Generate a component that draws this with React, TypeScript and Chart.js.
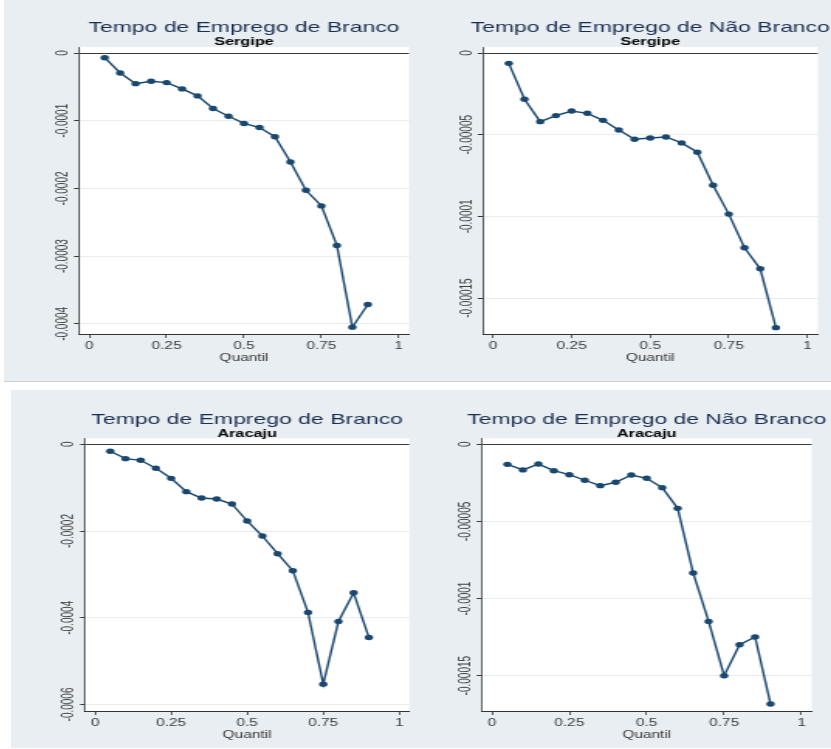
import React, { useEffect, useRef } from 'react';
import { Chart, registerables } from 'chart.js';

Chart.register(...registerables);

const FONT = '"Liberation Sans", Arial, Helvetica, sans-serif';
const NAVY = '#1a476f';
const TITLE_COLOR = '#1c2e50';
const TEXT_GRAY = '#3d3d3d';
const PANEL_BG = '#e8eef1';
// horizontal stretch applied to each rendered panel
const STRETCH = 1.55;

// ---- data ----
const quantis = [0.05, 0.1, 0.15, 0.2, 0.25, 0.3, 0.35, 0.4, 0.45, 0.5, 0.55, 0.6, 0.65, 0.7, 0.75, 0.8, 0.85, 0.9];

const xTicks = [0, 0.25, 0.5, 0.75, 1];
const xTickLabels = ['0', '0.25', '0.5', '0.75', '1'];

const brancoSergipe = [
  -0.0000069, -0.0000295, -0.0000452, -0.0000417, -0.0000437, -0.000053, -0.0000633, -0.000082, -0.0000933,
  -0.000104, -0.00011, -0.0001237, -0.000161, -0.0002027, -0.0002258, -0.0002842, -0.0004049, -0.0003715,
];
const naoBrancoSergipe = [
  -0.0000063, -0.0000283, -0.000042, -0.0000383, -0.0000355, -0.0000369, -0.0000412, -0.0000471, -0.0000528,
  -0.000052, -0.0000514, -0.000055, -0.0000607, -0.0000809, -0.0000986, -0.0001192, -0.0001321, -0.0001681,
];
const brancoAracaju = [
  -0.0000162, -0.0000331, -0.0000369, -0.0000554, -0.0000785, -0.0001092, -0.0001238, -0.0001262, -0.0001377,
  -0.0001769, -0.0002115, -0.0002523, -0.0002915, -0.0003877, -0.0005531, -0.0004085, -0.0003423, -0.0004454,
];
const naoBrancoAracaju = [
  -0.000013, -0.0000166, -0.0000128, -0.0000171, -0.0000197, -0.0000233, -0.0000268, -0.0000246, -0.0000199,
  -0.000022, -0.0000281, -0.0000415, -0.0000834, -0.0001148, -0.00015, -0.0001299, -0.0001249, -0.0001684,
];

const yTicksBranco = [0, -0.0001, -0.0002, -0.0003, -0.0004];
const yLabelsBranco = ['0', '-0.0001', '-0.0002', '-0.0003', '-0.0004'];
const yTicksNaoBranco = [0, -0.00005, -0.0001, -0.00015];
const yLabelsNaoBranco = ['0', '-0.00005', '-0.0001', '-0.00015'];
const yTicksBrancoAju = [0, -0.0002, -0.0004, -0.0006];
const yLabelsBrancoAju = ['0', '-0.0002', '-0.0004', '-0.0006'];

type Box = { left: number; top: number; width: number; height: number };
type Plot = { left: number; right: number; top: number; bottom: number };

type PanelProps = {
  title: string;
  subtitle: string;
  values: number[];
  yTicks: number[];
  yLabels: string[];
  yMin: number;
  yMax: number;
  box: Box;
  plot: Plot;
  titleY: number;
  subtitleY: number;
};

const Y_W = 20;
const X_H = 30.3;

function Panel(props: PanelProps) {
  const ref = useRef<HTMLCanvasElement | null>(null);
  const { box, plot } = props;
  const preW = Math.round(box.width / STRETCH);
  const sx = box.width / preW;

  useEffect(() => {
    if (!ref.current) return;

    const plotBg = {
      id: 'plotBg',
      beforeDraw(chart: any) {
        const { ctx, chartArea } = chart;
        ctx.save();
        ctx.fillStyle = '#ffffff';
        ctx.fillRect(chartArea.left, chartArea.top, chartArea.right - chartArea.left, chartArea.bottom - chartArea.top);
        ctx.restore();
      },
    };

    const yLabelPlugin = {
      id: 'yLabels',
      afterDraw(chart: any) {
        const { ctx, chartArea } = chart;
        const scale = chart.scales.y;
        ctx.save();
        ctx.font = `10px ${FONT}`;
        ctx.fillStyle = TEXT_GRAY;
        ctx.textAlign = 'center';
        ctx.textBaseline = 'middle';
        props.yTicks.forEach((v, i) => {
          const y = scale.getPixelForValue(v);
          ctx.save();
          ctx.translate(chartArea.left - 10.1, y);
          ctx.rotate(-Math.PI / 2);
          ctx.fillText(props.yLabels[i], 0, 0);
          ctx.restore();
        });
        ctx.restore();
      },
    };

    const titlePlugin = {
      id: 'panelTitles',
      afterDraw(chart: any) {
        const { ctx, chartArea } = chart;
        const cx = (chartArea.left + chartArea.right) / 2;
        ctx.save();
        ctx.textAlign = 'center';
        ctx.textBaseline = 'middle';
        ctx.font = `14.8px ${FONT}`;
        ctx.fillStyle = TITLE_COLOR;
        ctx.fillText(props.title, cx, props.titleY);
        ctx.font = `bold 10.5px ${FONT}`;
        ctx.fillStyle = '#000000';
        ctx.fillText(props.subtitle, cx, props.subtitleY);
        ctx.restore();
      },
    };

    const chart = new Chart(ref.current, {
      type: 'line',
      data: {
        datasets: [
          {
            data: quantis.map((q, i) => ({ x: q, y: props.values[i] })),
            borderColor: NAVY,
            backgroundColor: NAVY,
            borderWidth: 1.4,
            pointRadius: 2.7,
            pointBorderWidth: 0,
            pointBackgroundColor: NAVY,
            tension: 0,
          },
        ],
      },
      options: {
        responsive: false,
        animation: false,
        devicePixelRatio: 1,
        layout: {
          padding: {
            left: plot.left / sx - Y_W,
            right: preW - plot.right / sx,
            top: plot.top,
            bottom: box.height - plot.bottom - X_H,
          },
        },
        plugins: {
          legend: { display: false },
          tooltip: { enabled: false },
          title: { display: false },
        },
        scales: {
          x: {
            type: 'linear',
            min: -0.033,
            max: 1.033,
            afterBuildTicks: (scale: any) => {
              scale.ticks = xTicks.map((v) => ({ value: v }));
            },
            afterFit: (scale: any) => {
              scale.height = X_H;
            },
            ticks: {
              autoSkip: false,
              maxRotation: 0,
              minRotation: 0,
              padding: 2.7,
              color: TEXT_GRAY,
              font: { family: FONT, size: 10 },
              callback: (_v: any, i: number) => xTickLabels[i],
            },
            grid: {
              drawOnChartArea: false,
              drawTicks: true,
              tickLength: 4,
              tickColor: '#333333',
              tickWidth: 0.8,
            },
            border: { display: true, color: '#333333', width: 1 },
            title: {
              display: true,
              text: 'Quantil',
              color: TEXT_GRAY,
              font: { family: FONT, size: 10, lineHeight: 1.2 },
              padding: { top: 0, bottom: 0 },
            },
          },
          y: {
            type: 'linear',
            min: props.yMin,
            max: props.yMax,
            afterBuildTicks: (scale: any) => {
              scale.ticks = props.yTicks.map((v) => ({ value: v }));
            },
            afterFit: (scale: any) => {
              scale.width = Y_W;
            },
            ticks: { display: false },
            grid: {
              color: (c: any) => (c.tick && c.tick.value === 0 ? '#3a3a3a' : '#e6ecef'),
              lineWidth: 1,
              drawTicks: true,
              tickLength: 3.2,
              tickColor: '#333333',
            },
            border: { display: true, color: '#333333', width: 0.8 },
          },
        },
      },
      plugins: [plotBg, yLabelPlugin, titlePlugin],
    } as any);

    return () => chart.destroy();
  }, []);

  return (
    <div
      style={{
        position: 'absolute',
        left: box.left,
        top: box.top,
        width: box.width,
        height: box.height,
      }}
    >
      <canvas
        ref={ref}
        width={preW}
        height={box.height}
        style={{
          position: 'absolute',
          left: 0,
          top: 0,
          width: preW,
          height: box.height,
          transform: `scaleX(${sx})`,
          transformOrigin: '0 0',
        }}
      />
    </div>
  );
}

export default function App() {
  return (
    <div
      style={{
        position: 'absolute',
        left: 0,
        top: 0,
        width: 831,
        height: 749,
        background: '#ffffff',
        overflow: 'hidden',
      }}
    >
      <div
        style={{
          position: 'absolute',
          left: 4,
          top: 0,
          width: 827,
          height: 381,
          background: PANEL_BG,
          borderBottom: '1px solid #c9ced1',
        }}
      />
      <div
        style={{
          position: 'absolute',
          left: 11,
          top: 390,
          width: 820,
          height: 358,
          background: PANEL_BG,
        }}
      />
      <Panel
        title="Tempo de Emprego de Branco"
        subtitle="Sergipe"
        values={brancoSergipe}
        yTicks={yTicksBranco}
        yLabels={yLabelsBranco}
        yMin={-0.000415}
        yMax={0.0000089}
        box={{ left: 4, top: 0, width: 412, height: 382 }}
        plot={{ left: 75, right: 405, top: 47, bottom: 334 }}
        titleY={27.5}
        subtitleY={42.5}
      />
      <Panel
        title="Tempo de Emprego de Não Branco"
        subtitle="Sergipe"
        values={naoBrancoSergipe}
        yTicks={yTicksNaoBranco}
        yLabels={yLabelsNaoBranco}
        yMin={-0.000172}
        yMax={0.0000037}
        box={{ left: 416, top: 0, width: 415, height: 382 }}
        plot={{ left: 66.7, right: 401.7, top: 47, bottom: 334 }}
        titleY={27.5}
        subtitleY={42.5}
      />
      <Panel
        title="Tempo de Emprego de Branco"
        subtitle="Aracaju"
        values={brancoAracaju}
        yTicks={yTicksBrancoAju}
        yLabels={yLabelsBrancoAju}
        yMin={-0.000615}
        yMax={0.0000138}
        box={{ left: 11, top: 390, width: 405, height: 358 }}
        plot={{ left: 74, right: 398.3, top: 48.3, bottom: 321 }}
        titleY={29.5}
        subtitleY={44}
      />
      <Panel
        title="Tempo de Emprego de Não Branco"
        subtitle="Aracaju"
        values={naoBrancoAracaju}
        yTicks={yTicksNaoBranco}
        yLabels={yLabelsNaoBranco}
        yMin={-0.0001729}
        yMax={0.0000039}
        box={{ left: 416, top: 390, width: 415, height: 358 }}
        plot={{ left: 65.7, right: 395.7, top: 48.3, bottom: 321 }}
        titleY={29.5}
        subtitleY={44}
      />
    </div>
  );
}
